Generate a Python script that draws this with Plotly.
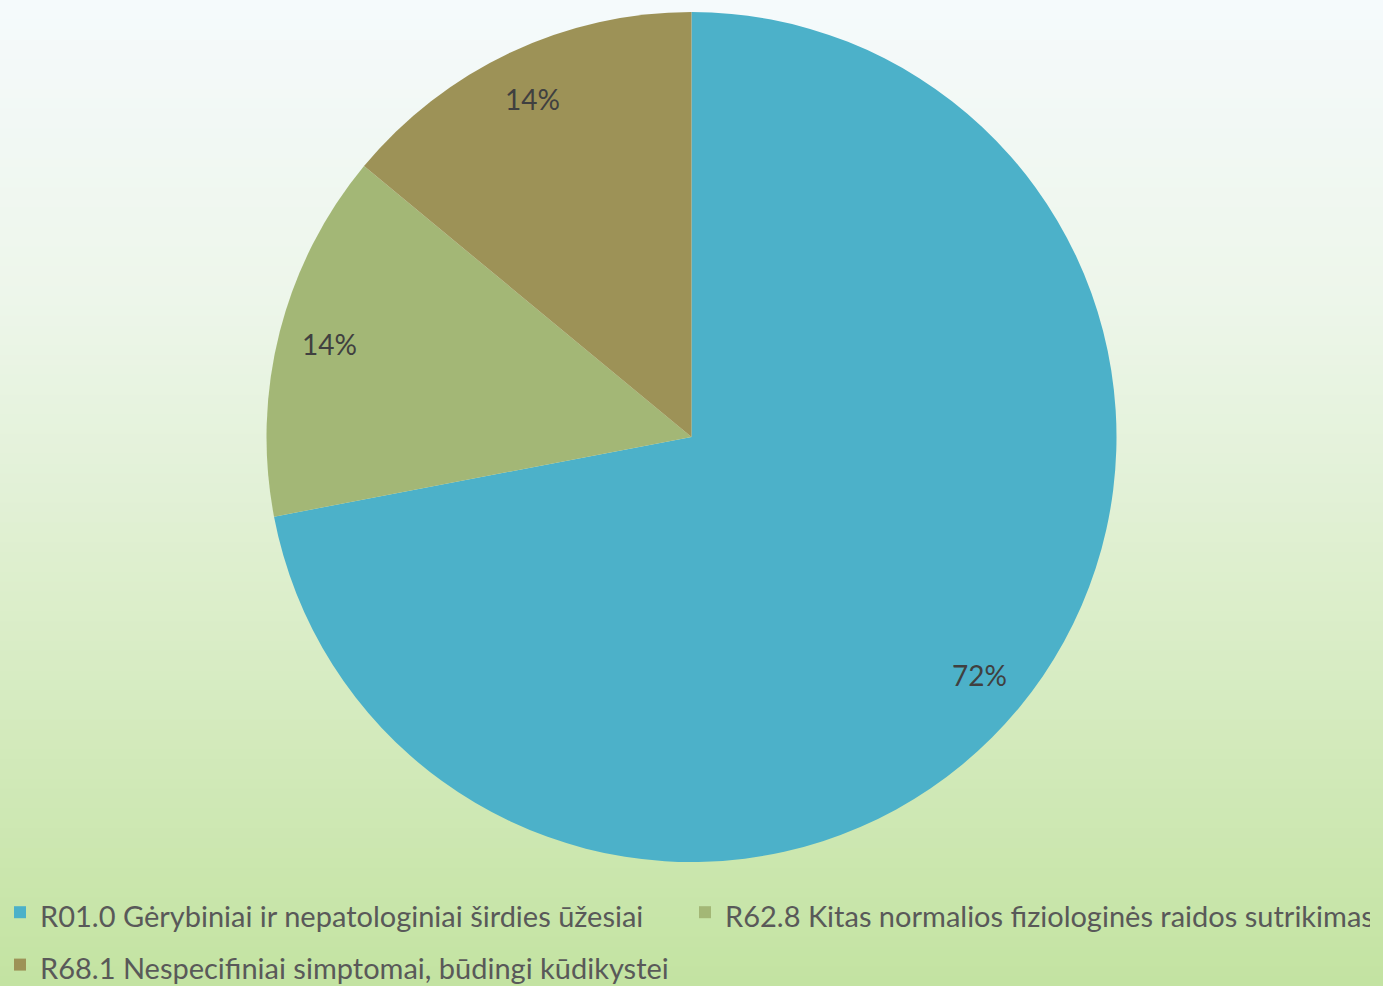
import math
import plotly.graph_objects as go

labels = [
    "R01.0 Gėrybiniai ir nepatologiniai širdies ūžesiai",
    "R62.8 Kitas normalios fiziologinės raidos sutrikimas",
    "R68.1 Nespecifiniai simptomai, būdingi kūdikystei",
]
values = [36, 7, 7]
colors = ["#4CB1C9", "#A3B776", "#9D9257"]

W, H = 1383, 986
PIE_TOP, PIE_BOT = 12, 862          # pixel extent of pie domain
R_PX = (PIE_BOT - PIE_TOP) / 2
CY_PX = (PIE_TOP + PIE_BOT) / 2

fig = go.Figure()

# background gradient (pixel row -> rgb stops)
stops = [(0, (245, 250, 252)), (300, (237, 246, 234)), (600, (220, 238, 203)), (986, (195, 227, 161))]

def grad(y):
    for (y0, c0), (y1, c1) in zip(stops[:-1], stops[1:]):
        if y0 <= y <= y1:
            u = (y - y0) / (y1 - y0)
            return tuple(round(c0[k] + (c1[k] - c0[k]) * u) for k in range(3))
    return stops[-1][1]

N = 100
for i in range(N):
    ya = i * H / N
    yb = (i + 1) * H / N
    c = grad((ya + yb) / 2)
    fig.add_shape(type="rect", xref="paper", yref="paper",
                  x0=0, x1=1, y0=1 - yb / H - 0.001, y1=1 - ya / H,
                  fillcolor=f"rgb({c[0]},{c[1]},{c[2]})", line_width=0, layer="below")

LEG_FONT = 29
legend_labels = [f"<span style='font-size:{LEG_FONT}px'>{l}</span>" for l in labels]

fig.add_trace(go.Pie(
    labels=legend_labels,
    values=values,
    sort=False,
    direction="clockwise",
    rotation=0,
    marker=dict(colors=colors, line=dict(width=0)),
    textinfo="none",
    hoverinfo="percent",
    domain=dict(x=[0, 1], y=[1 - PIE_BOT / H, 1 - PIE_TOP / H]),
))

# percentage labels placed near the outer edge, computed from values
total = sum(values)
cum = 0
for v in values:
    mid = (cum + v / 2) / total * 2 * math.pi
    cum += v
    r = 0.88 * R_PX
    px = W / 2 + r * math.sin(mid)
    py = CY_PX - r * math.cos(mid)
    fig.add_annotation(
        x=px / W, y=1 - py / H, xref="paper", yref="paper",
        xanchor="center", yanchor="middle",
        text=f"{round(v / total * 100)}%", showarrow=False,
        font=dict(family="Lato, Open Sans, sans-serif", size=28, color="#404040"),
    )

fig.update_layout(
    width=W, height=H,
    margin=dict(l=0, r=0, t=0, b=0, autoexpand=False),
    paper_bgcolor="rgba(0,0,0,0)",
    plot_bgcolor="rgba(0,0,0,0)",
    showlegend=True,
    legend=dict(
        orientation="h", x=0.0, xanchor="left", y=1 - 881 / H, yanchor="top",
        font=dict(family="Lato, Open Sans, sans-serif", size=38, color="#595959"),
        entrywidth=640, entrywidthmode="pixels", maxheight=300,
        bgcolor="rgba(0,0,0,0)", itemclick=False,
    ),
)

fig.write_html("out.html", config={"displayModeBar": False},
               post_script="document.body.style.margin='0';document.body.style.overflow='hidden';")
